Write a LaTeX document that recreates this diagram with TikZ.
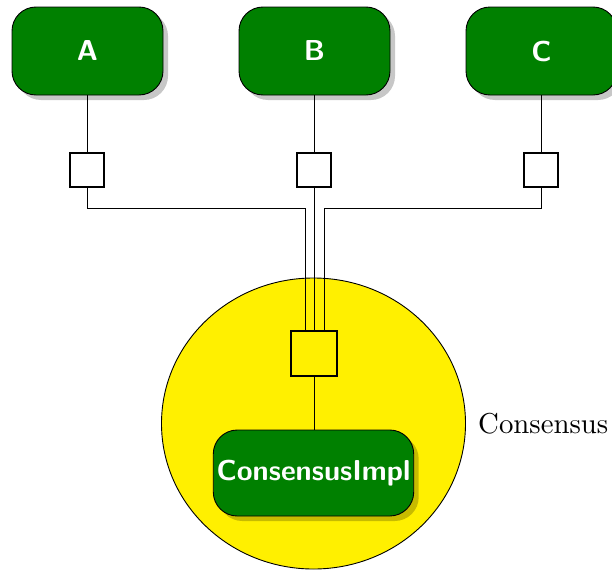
\documentclass[tikz,border=0pt]{standalone}
\usepackage{fontspec}
\usetikzlibrary{shapes.geometric,shadows,calc}
\definecolor{boxgreen}{RGB}{0,128,0}
\definecolor{circyellow}{RGB}{255,240,0}
\tikzset{
  comp/.style={draw=black, line width=0.9pt, fill=boxgreen, rounded corners=24pt,
    minimum width=151pt, minimum height=88pt, text=white,
    font=\fontsize{28.8}{34}\selectfont\sffamily\bfseries,
    drop shadow={shadow xshift=5pt, shadow yshift=-5pt, fill=black, opacity=0.22}},
  port/.style={draw=black, line width=1.1pt, fill=white, minimum width=34pt, minimum height=34pt, inner sep=0pt},
  wire/.style={draw=black, line width=1pt},
}
\begin{document}
\begin{tikzpicture}[x=1pt,y=-1pt]
\useasboundingbox (0,0) rectangle (612,570);
% container
\node[ellipse, draw=black, line width=0.9pt, fill=circyellow, minimum width=304pt, minimum height=291pt, inner sep=0pt] (cons) at (313.5,423.5) {};
\node[anchor=west, inner sep=0pt] (lbl) at (478,424) {\scalebox{2.88}{\fontsize{10}{12}\selectfont Consensus}};
% components
\node[comp] (A) at (87.5,51) {A};
\node[comp] (B) at (314.5,51) {B};
\node[comp] (C) at (541.5,51) {C};
\node[comp, minimum width=195pt, minimum height=86pt] (impl) at (313.5,473) {ConsensusImpl};
% ports
\node[port] (pA) at (87,170) {};
\node[port] (pB) at (314,170) {};
\node[port] (pC) at (541,170) {};
\node[port, fill=none, minimum width=46pt, minimum height=45pt] (pc) at (314,353.5) {};
% joints
\coordinate (jA) at (305.7,208);
\coordinate (jC) at (324.3,208);
% wires
\draw[wire] (A.south -| pA) -- (pA.north);
\draw[wire] (B.south -| pB) -- (pB.north);
\draw[wire] (C.south -| pC) -- (pC.north);
\draw[wire] (pA.south) |- (jA) -- (jA |- pc.north);
\draw[wire] (pB.south) -- (pB.south |- pc.north);
\draw[wire] (pC.south) |- (jC) -- (jC |- pc.north);
\draw[wire] (pc.south) -- (impl.north -| pc.south);
\end{tikzpicture}
\end{document}
